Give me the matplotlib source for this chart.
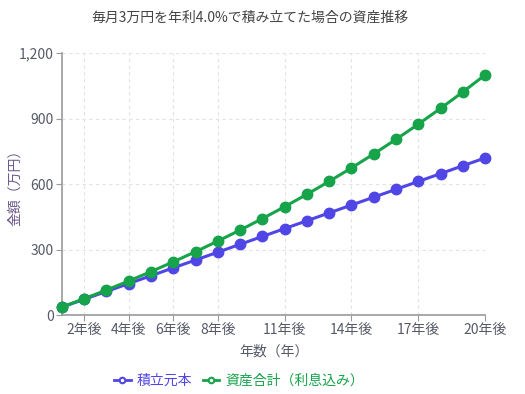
import numpy as np
import matplotlib
matplotlib.use("Agg")
import matplotlib.pyplot as plt
from matplotlib.lines import Line2D

plt.rcParams['font.family'] = ['Noto Sans CJK JP', 'DejaVu Sans']

# --- データ ---
years = [f"{i}年後" for i in range(1, 21)]
principal = [36, 72, 108, 144, 180, 216, 252, 288, 324, 360,
             396, 432, 468, 504, 540, 576, 612, 648, 684, 720]
total = [36.7, 74.8, 114.5, 155.9, 198.9, 243.7, 290.3, 338.8, 389.2, 441.8,
         496.4, 553.3, 612.6, 674.2, 738.3, 805.1, 874.6, 946.9, 1022.1, 1100.4]
shown_ticks = ["2年後", "4年後", "6年後", "8年後", "11年後", "14年後", "17年後", "20年後"]
y_ticks = [0, 300, 600, 900, 1200]

blue = "#4f46e5"
green = "#16a34a"
gray_text = "#555a66"

fig = plt.figure(figsize=(5.25, 3.94), dpi=100)
ax = fig.add_axes([0.118, 0.2005, 0.806, 0.6645])

x = np.arange(len(years))
ax.plot(x, principal, color=blue, lw=2.2, marker='o', ms=7.5, clip_on=False, zorder=3)
ax.plot(x, total, color=green, lw=2.2, marker='o', ms=7.5, clip_on=False, zorder=4)

tick_idx = [years.index(t) for t in shown_ticks]
ax.set_xticks(tick_idx)
ax.set_xticklabels(shown_ticks)
ax.set_yticks(y_ticks)
ax.set_yticklabels([f"{v:,}" for v in y_ticks])
ax.set_xlim(0, len(years) - 1)
ax.set_ylim(0, 1200)

ax.grid(True, linestyle=(0, (3, 3)), color="#e2e2e2", lw=0.8)
ax.set_axisbelow(True)
for s in ["top", "right"]:
    ax.spines[s].set_visible(False)
for s in ["left", "bottom"]:
    ax.spines[s].set_color("#9a9a9a")
    ax.spines[s].set_linewidth(1.2)
ax.tick_params(colors="#9a9a9a", labelcolor=gray_text, labelsize=10, length=4, pad=2)

ax.set_xlabel("年数（年）", fontsize=10, color=gray_text, labelpad=5)
ax.set_ylabel("金額（万円）", fontsize=10, color="#6f5a8a")
ax.yaxis.set_label_coords(-0.095, 0.5)

fig.text(0.476, 0.955, "毎月3万円を年利4.0%で積み立てた場合の資産推移",
         ha="center", va="center", fontsize=10, color="#444444")

handles = [
    Line2D([], [], color=blue, lw=2, marker='o', ms=4, mfc="white", mew=1.5),
    Line2D([], [], color=green, lw=2, marker='o', ms=4, mfc="white", mew=1.5),
]
fig.legend(handles, ["積立元本", "資産合計（利息込み）"], loc="center",
           bbox_to_anchor=(0.455, 0.033), ncol=2, frameon=False, fontsize=10,
           labelcolor="linecolor", handlelength=1.2, handletextpad=0.4,
           columnspacing=0.8)

fig.savefig("out.png", dpi=100)
